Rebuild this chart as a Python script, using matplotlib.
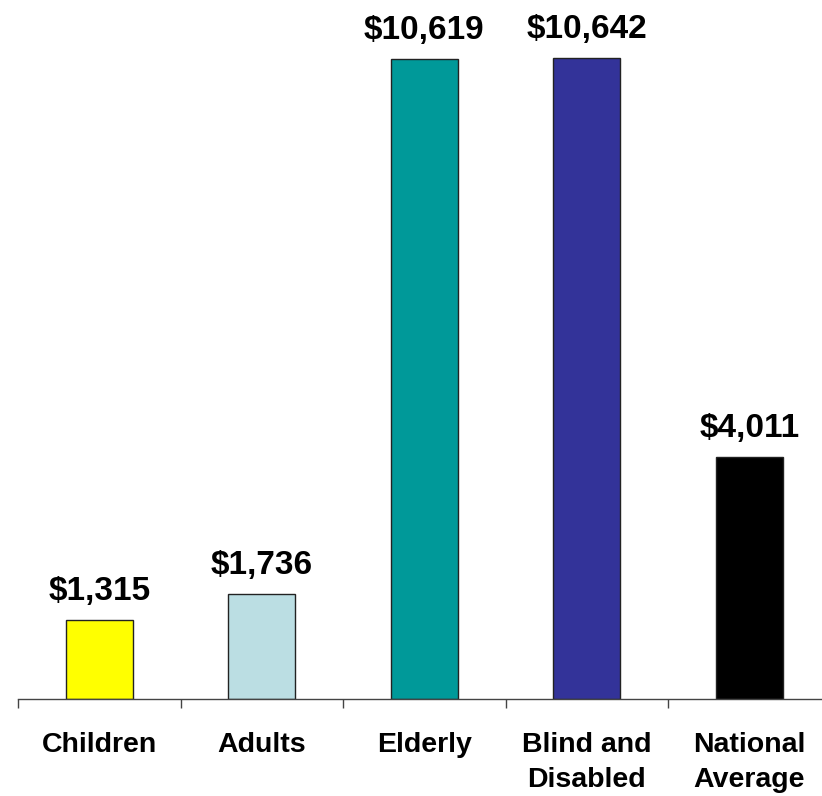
import numpy as np
import matplotlib.pyplot as plt

plt.rcParams['font.family'] = ['Liberation Sans', 'DejaVu Sans']

# Datos del grafico
categories = ['Children', 'Adults', 'Elderly', 'Blind and\nDisabled', 'National\nAverage']
values = [1315, 1736, 10619, 10642, 4011]
value_labels = ['$1,315', '$1,736', '$10,619', '$10,642', '$4,011']
colors = ['#FFFF00', '#BBDEE3', '#009999', '#333399', '#000000']

fig = plt.figure(figsize=(8.22, 7.96), dpi=100)
# el eje se sale un poco por la derecha, como en el original
ax = fig.add_axes([18/822, 97/796, 812.5/822, 663/796])

x = np.arange(len(categories))
ax.bar(x, values, width=0.41, color=colors, edgecolor='#222222', linewidth=1.0, zorder=2)

for xi, v, lab in zip(x, values, value_labels):
    ax.annotate(lab, xy=(xi, v), xytext=(0, 14.4), textcoords='offset points',
                ha='center', va='baseline', fontsize=24, fontweight='bold')

ax.set_xlim(-0.5, len(categories) - 0.5)
ax.set_ylim(0, 11000)

# ticks entre categorias
ax.set_xticks(np.arange(len(categories) + 1) - 0.5)
ax.set_xticklabels([])
ax.set_xticks(x, minor=True)
ax.set_xticklabels(categories, minor=True, fontsize=20.5, fontweight='bold', linespacing=1.45)
ax.tick_params(axis='x', which='major', length=6.5, width=1, color='#444444', direction='out')
ax.tick_params(axis='x', which='minor', length=0, pad=24)
ax.set_yticks([])

for s in ['top', 'right', 'left']:
    ax.spines[s].set_visible(False)
ax.spines['bottom'].set_color('#444444')
ax.spines['bottom'].set_linewidth(1)

fig.savefig('out.png', dpi=100)
